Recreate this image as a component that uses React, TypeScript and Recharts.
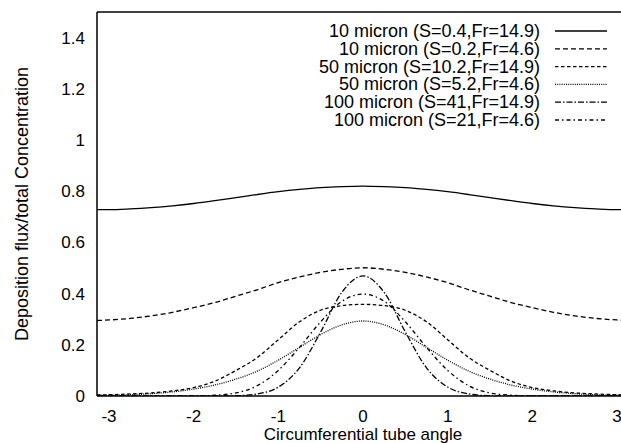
import React from 'react';
import { LineChart, Line, XAxis, YAxis, Legend } from 'recharts';

const XS = [-3.1416, -3, -2.75, -2.5, -2.25, -2, -1.75, -1.5, -1.25, -1, -0.75, -0.5, -0.25, 0, 0.25, 0.5, 0.75, 1, 1.25, 1.5, 1.75, 2, 2.25, 2.5, 2.75, 3, 3.1416];

const S1 = [0.728, 0.728, 0.731, 0.736, 0.743, 0.752, 0.763, 0.775, 0.787, 0.798, 0.807, 0.814, 0.818, 0.820, 0.818, 0.814, 0.807, 0.798, 0.787, 0.775, 0.763, 0.752, 0.743, 0.736, 0.731, 0.728, 0.728];
const S2 = [0.295, 0.297, 0.303, 0.313, 0.327, 0.345, 0.365, 0.390, 0.415, 0.443, 0.465, 0.483, 0.495, 0.501, 0.495, 0.483, 0.465, 0.443, 0.415, 0.390, 0.365, 0.345, 0.327, 0.313, 0.303, 0.297, 0.295];
const S3 = [0.004, 0.005, 0.008, 0.012, 0.020, 0.033, 0.058, 0.100, 0.150, 0.220, 0.290, 0.335, 0.353, 0.358, 0.353, 0.335, 0.290, 0.220, 0.150, 0.100, 0.058, 0.033, 0.020, 0.012, 0.008, 0.005, 0.004];
const S4 = [0.003, 0.003, 0.005, 0.009, 0.016, 0.027, 0.043, 0.066, 0.097, 0.140, 0.190, 0.240, 0.278, 0.293, 0.278, 0.240, 0.190, 0.140, 0.097, 0.066, 0.043, 0.027, 0.016, 0.009, 0.005, 0.003, 0.003];
const S5 = [0, 0, 0, 0, 0, 0, 0, 0.001, 0.008, 0.035, 0.110, 0.250, 0.405, 0.469, 0.405, 0.250, 0.110, 0.035, 0.008, 0.001, 0, 0, 0, 0, 0, 0, 0];
const S6 = [0, 0, 0, 0, 0, 0, 0.003, 0.012, 0.040, 0.100, 0.190, 0.290, 0.370, 0.398, 0.370, 0.290, 0.190, 0.100, 0.040, 0.012, 0.003, 0, 0, 0, 0, 0, 0];

const SERIES_NAMES = [
  '10 micron (S=0.4,Fr=14.9)',
  '10 micron (S=0.2,Fr=4.6)',
  '50 micron (S=10.2,Fr=14.9)',
  '50 micron (S=5.2,Fr=4.6)',
  '100 micron (S=41,Fr=14.9)',
  '100 micron (S=21,Fr=4.6)',
];
const SERIES_KEYS = ['s1', 's2', 's3', 's4', 's5', 's6'];
const SERIES_VALUES = [S1, S2, S3, S4, S5, S6];
const DASHES = [undefined, '5 3', '3.5 2.5', '1 1.2', '6 2 1.5 2', '4 3 1.5 3'];

const X_TICKS = [-3, -2, -1, 0, 1, 2, 3];
const Y_TICKS = [0, 0.2, 0.4, 0.6, 0.8, 1, 1.2, 1.4];
const X_LABEL = 'Circumferential tube angle';
const Y_LABEL = 'Deposition flux/total Concentration';

const data = XS.map((x, i) => {
  const row: Record<string, number> = { x };
  SERIES_KEYS.forEach((k, j) => {
    row[k] = SERIES_VALUES[j][i];
  });
  return row;
});

const FONT = 'Liberation Sans, Arial, Helvetica, sans-serif';
const FS = 18;
const FS_AX = 17;
const CHART_W = 650;
const CHART_H = 443;
const PLOT_LEFT = 97;
const PLOT_RIGHT = 629;

const renderLegend = () => (
  <svg width={CHART_W} height={CHART_H} style={{ position: 'absolute', left: 0, top: 0 }}>
    {SERIES_NAMES.map((name, i) => {
      const y = 31 + i * 17.8;
      return (
        <g key={name}>
          <text x={540} y={y} textAnchor="end" dominantBaseline="central" fontFamily={FONT} fontSize={FS} fill="#000">
            {name}
          </text>
          <line x1={555} x2={607} y1={y} y2={y} stroke="#000" strokeWidth={1.3} strokeDasharray={DASHES[i]} />
        </g>
      );
    })}
  </svg>
);

const YLabel = (props: any) => {
  const vb = props.viewBox || { x: 0, y: 12, width: PLOT_LEFT, height: 384 };
  const cx = vb.x + 22;
  const cy = vb.y + vb.height / 2;
  return (
    <text x={cx} y={cy} transform={`rotate(-90, ${cx}, ${cy})`} textAnchor="middle" dominantBaseline="central" fontFamily={FONT} fontSize={FS} fill="#000">
      {Y_LABEL}
    </text>
  );
};

export default function App() {
  const axisLine = { stroke: '#000', strokeWidth: 1.5 };
  const tickLine = { stroke: '#000', strokeWidth: 1.3 };
  const tickStyle = { fontFamily: FONT, fontSize: FS_AX, fill: '#000' };
  const xDomain: [number, number] = [-Math.PI, Math.PI];
  const yDomain: [number, number] = [0, 1.5];
  return (
    <div style={{ position: 'absolute', left: 0, top: 0, width: 621, height: 443, overflow: 'hidden', background: '#fff' }}>
      <LineChart width={CHART_W} height={CHART_H} data={data} margin={{ top: 12, right: CHART_W - PLOT_RIGHT, bottom: 0, left: 0 }}>
        <XAxis
          xAxisId="main"
          dataKey="x"
          type="number"
          domain={xDomain}
          ticks={X_TICKS}
          allowDataOverflow
          height={47}
          tickLine={false}
          tickSize={0}
          tickMargin={14}
          axisLine={axisLine}
          tick={tickStyle}
          label={{ value: X_LABEL, position: 'insideBottom', offset: 3, style: { fontFamily: FONT, fontSize: FS_AX, fill: '#000' } }}
        />
        <XAxis xAxisId="bm" type="number" dataKey="x" domain={xDomain} ticks={X_TICKS} allowDataOverflow orientation="bottom" mirror tick={false} tickSize={8} tickLine={tickLine} axisLine={false} />
        <XAxis xAxisId="tm" type="number" dataKey="x" domain={xDomain} ticks={X_TICKS} allowDataOverflow orientation="top" mirror tick={false} tickSize={8} tickLine={tickLine} axisLine={axisLine} />
        <YAxis
          yAxisId="main"
          type="number"
          domain={yDomain}
          ticks={Y_TICKS}
          allowDataOverflow
          width={PLOT_LEFT}
          tickLine={false}
          tickSize={0}
          tickMargin={12}
          axisLine={axisLine}
          tick={tickStyle}
          label={<YLabel />}
        />
        <YAxis yAxisId="lm" type="number" domain={yDomain} ticks={Y_TICKS} allowDataOverflow orientation="left" mirror tick={false} tickSize={8} tickLine={tickLine} axisLine={false} />
        <YAxis yAxisId="rm" type="number" domain={yDomain} ticks={Y_TICKS} allowDataOverflow orientation="right" mirror tick={false} tickSize={8} tickLine={tickLine} axisLine={axisLine} />
        <Legend
          layout="horizontal"
          verticalAlign="middle"
          align="center"
          content={renderLegend}
          wrapperStyle={{ position: 'absolute', left: 0, top: 0, width: CHART_W, height: CHART_H, pointerEvents: 'none' }}
        />
        {SERIES_KEYS.map((k, i) => (
          <Line
            key={k}
            xAxisId="main"
            yAxisId="main"
            dataKey={k}
            name={SERIES_NAMES[i]}
            type="monotone"
            stroke="#000"
            strokeWidth={1.3}
            strokeDasharray={DASHES[i]}
            dot={false}
            activeDot={false}
            isAnimationActive={false}
          />
        ))}
      </LineChart>
    </div>
  );
}
